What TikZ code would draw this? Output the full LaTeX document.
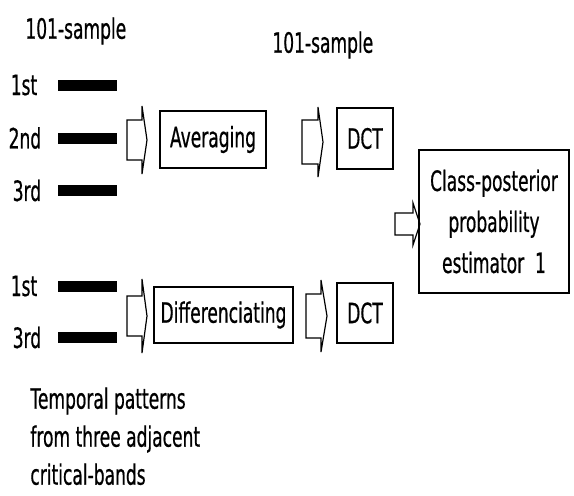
\documentclass[tikz,border=0pt]{standalone}
\usepackage{fontspec}
\setmainfont{DejaVu Sans}[FakeStretch=0.61, FakeBold=0.6]
\usetikzlibrary{positioning}

% outline arrow: left x, head base x, tip x, centre y, shaft half, head half
\newcommand{\hollowarrow}[6]{%
  \draw[arrowline] (#1,#4-#5) -- (#2,#4-#5) -- (#2,#4-#6) -- (#3,#4)
    -- (#2,#4+#6) -- (#2,#4+#5) -- (#1,#4+#5) -- cycle;}

\tikzset{
  lbl/.style={inner sep=0pt, font=\fontsize{14}{16}\selectfont},
  bar/.style={fill=black, minimum width=29.5pt, minimum height=5.5pt, inner sep=0pt},
  thinbox/.style={draw, line width=0.6pt, inner sep=0pt, font=\fontsize{14}{16}\selectfont},
  thickbox/.style={draw, line width=1.3pt, inner sep=0pt, font=\fontsize{14}{16}\selectfont},
  arrowline/.style={line width=0.6pt, fill=white},
}

\begin{document}
\begin{tikzpicture}[x=0.5pt, y=-0.5pt]
  \useasboundingbox (0,0) rectangle (574,495);

  % Headings
  \node[lbl, anchor=west] (head1) at (25,31) {101-sample};
  \node[lbl, anchor=west] (head2) at (272,45) {101-sample};

  % Upper group of bands
  \node[bar] (b1) at (87.5,85) {};
  \node[bar] (b2) at (87.5,138) {};
  \node[bar] (b3) at (87.5,190.5) {};
  \node[lbl, left=10pt of b1] (l1) {1st};
  \node[lbl, left=8pt of b2] (l2) {2nd};
  \node[lbl, left=8pt of b3] (l3) {3rd};

  % Averaging branch
  \hollowarrow{127}{142}{147}{140}{20}{34}
  \node[thinbox, minimum width=53pt, minimum height=28.5pt] (avg) at (213,139.5) {Averaging};
  \hollowarrow{302}{318}{323}{142}{22}{35}
  \node[thickbox, minimum width=28pt, minimum height=30.5pt] (dct1) at (365,138.5) {DCT};

  % Lower group of bands
  \node[bar] (b4) at (87.5,286) {};
  \node[bar] (b5) at (87.5,337.5) {};
  \node[lbl, left=10pt of b4] (l4) {1st};
  \node[lbl, left=8pt of b5] (l5) {3rd};

  % Differencing branch
  \hollowarrow{127}{142}{147}{316}{20}{37}
  \node[thinbox, minimum width=69.5pt, minimum height=28pt] (diff) at (223.5,315) {Differenciating};
  \hollowarrow{306}{321}{327}{316}{22}{36}
  \node[thickbox, minimum width=28pt, minimum height=30pt] (dct2) at (365,313) {DCT};

  % Estimator
  \hollowarrow{395}{413}{420}{224}{11}{21}
  \node[thickbox, minimum width=75pt, minimum height=71.5pt, align=center,
        font=\fontsize{14}{20.5}\selectfont] (est) at (494,221.5)
        {Class-posterior\\probability\\estimator\ \ 1};

  % Caption
  \node[lbl, anchor=north west, align=left, font=\fontsize{14}{19}\selectfont]
        (cap) at (30,387) {Temporal patterns\\from three adjacent\\critical-bands};
\end{tikzpicture}
\end{document}
